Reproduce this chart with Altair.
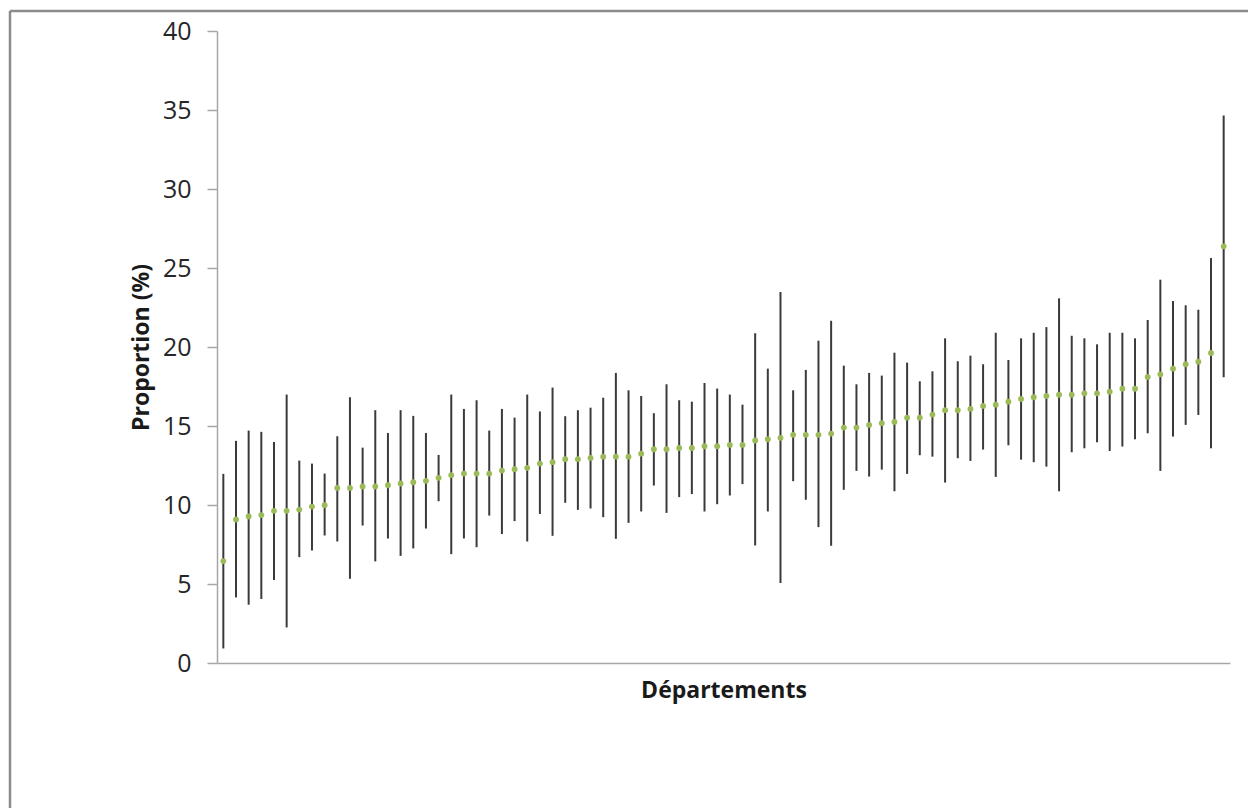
import altair as alt
import pandas as pd

departements = list(range(1, 81))

proportion = [6.45, 9.08, 9.27, 9.36, 9.63, 9.63, 9.71, 9.90, 9.99, 11.08,
              11.08, 11.17, 11.17, 11.25, 11.36, 11.44, 11.53, 11.72, 11.89, 11.99,
              11.99, 11.99, 12.18, 12.27, 12.35, 12.62, 12.71, 12.90, 12.90, 12.98,
              13.06, 13.06, 13.06, 13.25, 13.53, 13.53, 13.61, 13.61, 13.72, 13.72,
              13.80, 13.80, 14.08, 14.16, 14.25, 14.44, 14.44, 14.44, 14.52, 14.90,
              14.90, 15.07, 15.18, 15.26, 15.53, 15.53, 15.72, 16.00, 16.00, 16.08,
              16.27, 16.35, 16.54, 16.71, 16.82, 16.90, 16.98, 16.98, 17.07, 17.07,
              17.17, 17.36, 17.36, 18.10, 18.27, 18.63, 18.91, 19.07, 19.62, 26.37]

ic_bas = [0.92, 4.15, 3.69, 4.05, 5.25, 2.25, 6.70, 7.12, 8.07, 7.69,
          5.33, 8.70, 6.43, 7.88, 6.78, 7.25, 8.51, 10.24, 6.89, 7.88,
          7.33, 9.33, 8.16, 8.98, 7.69, 9.43, 8.05, 10.14, 9.69, 9.78,
          9.23, 7.86, 8.87, 9.59, 11.23, 9.50, 10.50, 10.69, 9.59, 10.05,
          10.60, 11.32, 7.44, 9.59, 5.06, 11.51, 10.33, 8.60, 7.42, 10.96,
          12.16, 11.80, 12.24, 10.87, 11.97, 13.15, 13.06, 11.42, 12.96, 12.79,
          13.51, 11.78, 13.78, 12.87, 12.71, 12.43, 10.87, 13.34, 13.59, 13.97,
          13.42, 13.70, 14.16, 14.54, 12.16, 14.33, 15.07, 15.70, 13.59, 18.08]

ic_haut = [11.97, 14.06, 14.71, 14.63, 13.99, 16.99, 12.81, 12.62, 11.99, 14.35,
           16.82, 13.63, 16.00, 14.56, 16.00, 15.64, 14.56, 13.17, 16.99, 16.08,
           16.63, 14.71, 16.08, 15.53, 16.99, 15.92, 17.43, 15.62, 16.00, 16.16,
           16.79, 18.36, 17.26, 16.90, 15.81, 17.64, 16.63, 16.54, 17.72, 17.37,
           16.99, 16.35, 20.87, 18.63, 23.48, 17.26, 18.55, 20.40, 21.66, 18.82,
           17.64, 18.36, 18.19, 19.64, 19.01, 17.83, 18.46, 20.55, 19.10, 19.45,
           18.91, 20.90, 19.18, 20.55, 20.90, 21.26, 23.08, 20.71, 20.55, 20.17,
           20.90, 20.90, 20.55, 21.71, 24.26, 22.91, 22.64, 22.36, 25.63, 34.65]

y_ticks = [0, 5, 10, 15, 20, 25, 30, 35, 40]

df = pd.DataFrame({"dep": departements, "p": proportion, "lo": ic_bas, "hi": ic_haut})

FONT = "Open Sans"
W, H = 1013, 632
LEFT, TOP = 217, 31

x_enc = alt.X("dep:Q", scale=alt.Scale(domain=[0.5, 80.5], nice=False, zero=False),
              axis=alt.Axis(title="Départements", labels=False, ticks=False, grid=False,
                            domainColor="#a6a6a6", domainWidth=1.5,
                            titleFont=FONT, titleFontSize=23, titleFontWeight="bold",
                            titleColor="#1a1a1a", titlePadding=16))
y_scale = alt.Scale(domain=[0, 40], nice=False)
y_axis = alt.Axis(title="Proportion (%)", values=y_ticks, grid=False,
                  tickSize=10, tickColor="#a6a6a6", tickWidth=1.5,
                  domainColor="#a6a6a6", domainWidth=1.5,
                  labelFont=FONT, labelFontSize=25, labelColor="#262626", labelPadding=16,
                  titleFont=FONT, titleFontSize=23, titleFontWeight="bold",
                  titleColor="#1a1a1a", titlePadding=9)

base = alt.Chart(df)

bars = base.mark_rule(color="#3a3a3a", strokeWidth=2).encode(
    x=x_enc,
    y=alt.Y("lo:Q", scale=y_scale, axis=y_axis),
    y2="hi:Q",
)

dots = base.mark_circle(color="#9bbb59", opacity=1, size=34).encode(
    x="dep:Q",
    y="p:Q",
)

frame_top = alt.Chart(pd.DataFrame({"k": [0]})).mark_rule(color="#8c8c8c", strokeWidth=2.5).encode(
    x=alt.value(10 - LEFT), x2=alt.value(1260 - LEFT), y=alt.value(11 - TOP))
frame_left = alt.Chart(pd.DataFrame({"k": [0]})).mark_rule(color="#8c8c8c", strokeWidth=2.5).encode(
    x=alt.value(10 - LEFT), y=alt.value(11 - TOP), y2=alt.value(820 - TOP))

chart = alt.layer(bars, dots, frame_top, frame_left).properties(
    width=W, height=H,
    background="white",
    autosize=alt.AutoSizeParams(type="none"),
    padding={"left": LEFT, "top": TOP, "right": 1248 - LEFT - W, "bottom": 808 - TOP - H},
).configure_view(stroke=None, strokeWidth=0)

chart.save("out.html", embed_options={"renderer": "svg", "actions": False})
